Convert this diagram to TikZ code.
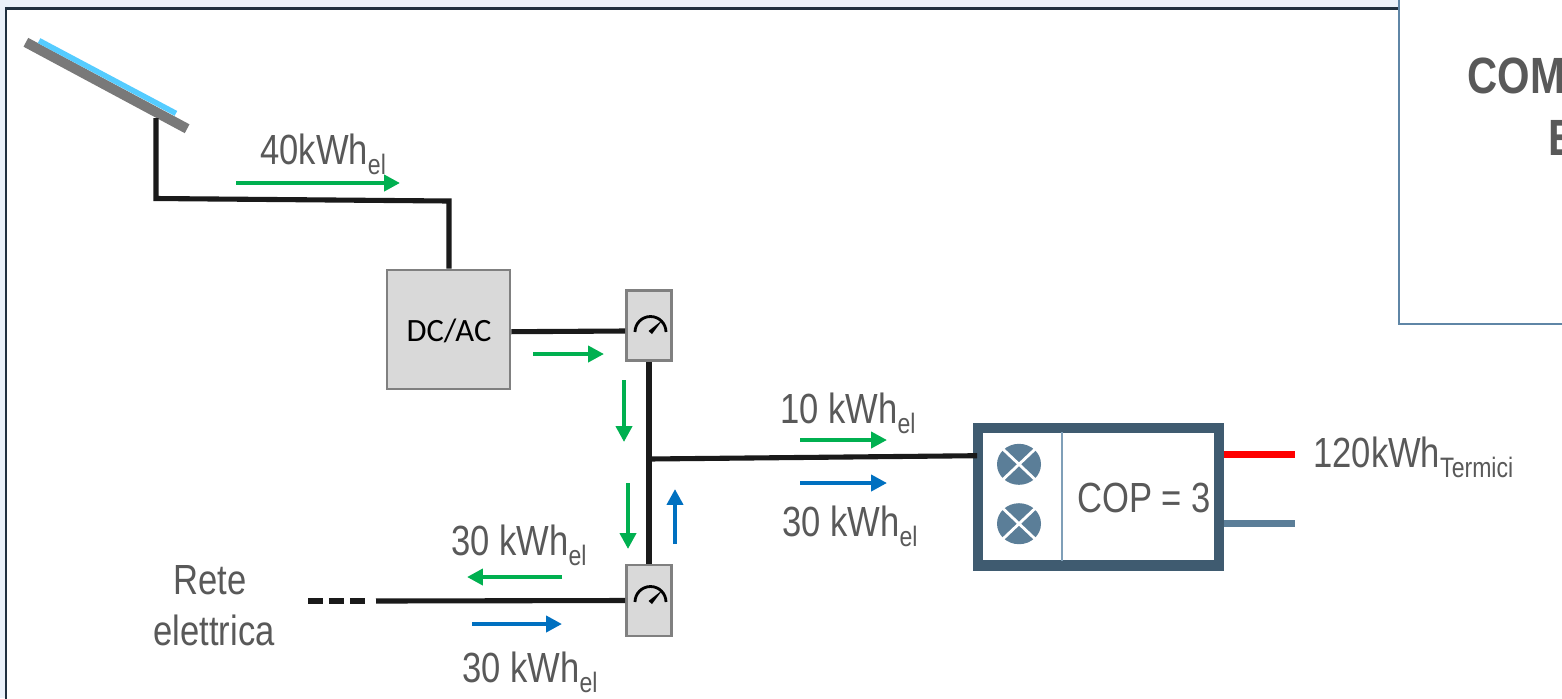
\documentclass[tikz,border=0pt]{standalone}
\usepackage{fontspec}
\usetikzlibrary{arrows.meta}
\setmainfont[FakeStretch=0.82]{Liberation Sans}
\newfontfamily\boxfont{Carlito}
\newcommand{\pedice}[1]{\raisebox{-6pt}{\fontsize{16}{16}\selectfont #1}}

\definecolor{frameblue}{HTML}{1F3040}
\definecolor{pageblue}{HTML}{EAF1FA}
\definecolor{boxblue}{HTML}{5F86A6}
\definecolor{hpblue}{HTML}{3F5B70}
\definecolor{fanblue}{HTML}{5B7E98}
\definecolor{divblue}{HTML}{7F9FB8}
\definecolor{flowgreen}{HTML}{00B050}
\definecolor{flowblue}{HTML}{0070C0}
\definecolor{textgray}{HTML}{595959}
\definecolor{wireblack}{HTML}{1A1A1A}
\definecolor{panelblue}{HTML}{55CCFF}

\tikzset{
    wire/.style={line width=2.9pt, wireblack},
    flow/.style={line width=2.3pt, -{Triangle[length=9pt, width=9pt]}},
    flowg/.style={flow, flowgreen},
    flowb/.style={flow, flowblue},
    label/.style={anchor=base west, inner sep=0pt, text=textgray, font=\fontsize{24}{28}\selectfont},
    grayblock/.style={draw=gray, fill=black!15, line width=1.5pt, inner sep=0pt},
    gauge/.pic={
        \draw[line width=1.6pt, black] (-15.5,0) arc[start angle=180, end angle=0, radius=0.31cm];
        \fill[black] (-2,-1) -- (12,-12) -- (1.5,2) -- cycle;
    },
    fan/.pic={
        \fill[fanblue] (0,0) ellipse[x radius=0.44cm, y radius=0.41cm];
        \draw[white, line width=1.6pt] (-19,-18) -- (19,18) (-19,18) -- (19,-18);
    },
}

\begin{document}
\begin{tikzpicture}[x=0.02cm, y=-0.02cm]
    \useasboundingbox (0,0) rectangle (1562,698);

    % page and frame
    \fill[pageblue] (0,0) rectangle (1562,698);
    \draw[frameblue, line width=1.5pt, fill=white] (6,720) -- (6,8.5) -- (1580,8.5) -- (1580,720) -- cycle;

    % box on the right
    \node[draw=boxblue, fill=white, line width=0.9pt, minimum width=4.4cm, minimum height=7cm, anchor=south west] (commbox) at (1398,325) {};
    \node[label, font=\fontsize{29}{34}\selectfont\bfseries] (comtext) at (1467,93) {COM};
    \node[label, font=\fontsize{29}{34}\selectfont\bfseries] (etext) at (1548,155) {E};

    % panel
    \node[fill=gray!95!black, rotate=-28.2, minimum width=3.66cm, minimum height=0.2cm, inner sep=0pt] (panel) at (106.5,85.5) {};
    \node[fill=panelblue, rotate=-28, minimum width=3.1cm, minimum height=0.11cm, inner sep=0pt] (cell) at (107.5,77) {};

    \node[grayblock, minimum width=2.46cm, minimum height=2.38cm] (inverter) at (448.5,329.5) {};
    \node[text=black, inner sep=0pt, font=\boxfont\fontsize{18.5}{20}\selectfont] (invtext) at (449,331) {DC/AC};
    \node[grayblock, minimum width=0.9cm, minimum height=1.4cm] (meterpv) at (649,325.5) {};
    \node[grayblock, minimum width=0.9cm, minimum height=1.42cm] (metergrid) at (649,600.5) {};

    \pic at (650.5,332) {gauge};
    \pic at (650.5,602) {gauge};

    % heat pump
    \node[draw=hpblue, fill=white, line width=5.7pt, minimum width=4.82cm, minimum height=2.76cm, inner sep=0pt] (heatpump) at (1098.5,496.5) {};
    \coordinate (divtop) at (1062,432);
    \coordinate (divbottom) at (1062,561);
    \draw[divblue, line width=0.8pt] (divtop) -- (divbottom);
    \pic at (1019,464.3) {fan};
    \pic at (1019,523.7) {fan};
    \node[label] (coptext) at (1077,512) {COP = 3};

    \coordinate (panelfoot) at (156,118);
    \coordinate (wirea) at (156,198.5);
    \coordinate (wireb) at (449,201);
    \coordinate (junction) at (649,459);
    \coordinate (gridsolid) at (376,601);
    \coordinate (griddash) at (365,601);
    \coordinate (gridend) at (308,601);
    \coordinate (hotend) at (1295,454);
    \coordinate (coldend) at (1295,523);

    % panel -> inverter
    \draw[wire, line join=miter] (panelfoot) -- (wirea) -- (wireb) -- (wireb |- inverter.north);

    % inverter -> meterpv
    \draw[wire] (inverter.-2) -- (meterpv.193);

    % meterpv -> metergrid
    \draw[wire] (meterpv.south) -- (metergrid.north);

    % junction -> heatpump
    \draw[wire, shorten >=-0.08cm] (junction) -- (heatpump.162);

    % metergrid -> grid
    \draw[wire] (metergrid.west) -- (gridsolid);
    \draw[wire, dash pattern=on 0.3cm off 0.12cm] (gridend) -- (griddash);

    % heatpump -> hot and cold side
    \draw[red, line width=4pt] (heatpump.east |- hotend) -- (hotend);
    \draw[fanblue, line width=4pt] (heatpump.east |- coldend) -- (coldend);

    % green arrows
    \coordinate (ga1) at (236,183);
    \coordinate (ga2) at (400,183);
    \coordinate (gb1) at (533,354);
    \coordinate (gb2) at (604,354);
    \coordinate (gc1) at (624,380);
    \coordinate (gc2) at (624,442);
    \coordinate (gd1) at (628,483);
    \coordinate (gd2) at (628,549);
    \coordinate (ge1) at (562,577);
    \coordinate (ge2) at (467,577);
    \coordinate (gf1) at (800,440);
    \coordinate (gf2) at (887,440);
    \draw[flowg] (ga1) -- (ga2);
    \draw[flowg] (gb1) -- (gb2);
    \draw[flowg] (gc1) -- (gc2);
    \draw[flowg] (gd1) -- (gd2);
    \draw[flowg] (ge1) -- (ge2);
    \draw[flowg] (gf1) -- (gf2);

    % blue arrows
    \coordinate (ba1) at (472,624);
    \coordinate (ba2) at (562,624);
    \coordinate (bb1) at (675,544);
    \coordinate (bb2) at (675,489);
    \coordinate (bc1) at (800,483);
    \coordinate (bc2) at (887,483);
    \draw[flowb] (ba1) -- (ba2);
    \draw[flowb] (bb1) -- (bb2);
    \draw[flowb] (bc1) -- (bc2);

    \node[label] (text1) at (260,164) {40kWh\pedice{el}};
    \node[label] (text2) at (780,423) {10 kWh\pedice{el}};
    \node[label] (text3) at (782,536) {30 kWh\pedice{el}};
    \node[label] (text4) at (451,555) {30 kWh\pedice{el}};
    \node[label] (text5) at (462,682) {30 kWh\pedice{el}};
    \node[label] (text6) at (1313,467) {120kWh\pedice{Termici}};
    \node[label, anchor=base] (text7) at (210,594) {Rete};
    \node[label, anchor=base] (text8) at (214,645) {elettrica};
\end{tikzpicture}
\end{document}
